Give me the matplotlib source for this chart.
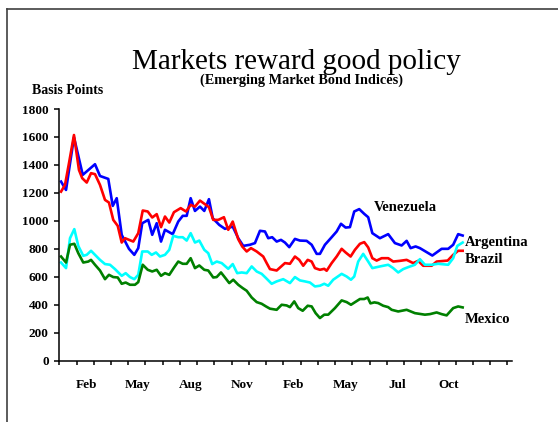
import matplotlib
matplotlib.use("Agg")
import matplotlib.pyplot as plt
from matplotlib.lines import Line2D

# time axis in months from the start of the first January
ven_t = [0.10, 0.39, 0.85, 1.36, 2.07, 2.36, 2.84, 3.10, 3.33, 3.62,
         4.04, 4.35, 4.58, 4.81, 5.16, 5.39, 5.65, 5.90, 6.13, 6.58,
         6.90, 7.16, 7.39, 7.62, 7.87, 8.16, 8.41, 8.68, 8.90, 9.28,
         9.61, 10.06, 10.38, 10.67, 11.06, 11.35, 11.64, 11.93, 12.12, 12.35,
         12.61, 12.86, 13.09, 13.34, 13.67, 13.96, 14.35, 14.64, 14.93, 15.12,
         15.41, 15.80, 16.09, 16.34, 16.61, 16.86, 17.11, 17.40, 17.69, 17.92,
         18.16, 18.60, 19.08, 19.47, 19.86, 20.15, 20.38, 20.67, 20.92, 21.64,
         22.18, 22.56, 22.85, 23.14, 23.40]
venezuela = [1281, 1221, 1598, 1329, 1405, 1321, 1300, 1107, 1162, 900,
             800, 757, 805, 983, 1007, 900, 983, 852, 936, 905,
             995, 1036, 1036, 1162, 1071, 1102, 1071, 1155, 1019, 971,
             943, 959, 876, 821, 829, 841, 929, 924, 876, 883,
             852, 864, 845, 812, 871, 859, 857, 829, 764, 764,
             829, 883, 924, 979, 952, 955, 1067, 1084, 1050, 1026,
             912, 876, 905, 841, 824, 857, 805, 817, 805, 752,
             800, 800, 829, 905, 895]

bra_t = [0.10, 0.33, 0.56, 0.85, 1.14, 1.33, 1.59, 1.84, 2.07, 2.36,
         2.65, 2.88, 3.13, 3.39, 3.62, 3.81, 4.29, 4.58, 4.84, 5.13,
         5.39, 5.65, 5.90, 6.13, 6.38, 6.65, 7.04, 7.35, 7.62, 7.87,
         8.16, 8.45, 8.68, 8.93, 9.22, 9.55, 9.80, 10.06, 10.38, 10.61,
         10.87, 11.12, 11.45, 11.83, 12.03, 12.22, 12.61, 13.09, 13.38, 13.67,
         13.92, 14.15, 14.41, 14.64, 14.83, 15.12, 15.37, 15.51, 15.80, 16.09,
         16.38, 16.61, 16.90, 17.15, 17.44, 17.69, 17.92, 18.16, 18.41, 18.70,
         19.08, 19.37, 19.76, 20.15, 20.53, 20.82, 21.11, 21.60, 21.89, 22.53,
         22.85, 23.14, 23.40]
brazil = [1209, 1257, 1412, 1614, 1364, 1305, 1274, 1341, 1334, 1257,
          1150, 1131, 1007, 964, 845, 876, 852, 912, 1074, 1067,
          1024, 1048, 955, 1031, 988, 1062, 1091, 1067, 1114, 1102,
          1145, 1119, 1098, 1007, 1007, 1026, 936, 995, 869, 817,
          781, 805, 781, 745, 698, 655, 645, 698, 693, 745,
          721, 679, 721, 709, 662, 650, 657, 643, 698, 745,
          800, 774, 745, 793, 836, 848, 810, 733, 716, 733,
          733, 709, 714, 721, 698, 714, 679, 679, 709, 716,
          757, 786, 786]

arg_t = [0.10, 0.39, 0.62, 0.87, 1.10, 1.39, 1.59, 1.84, 2.07, 2.36,
         2.65, 2.94, 3.23, 3.62, 3.85, 4.10, 4.35, 4.58, 4.81, 5.13,
         5.36, 5.61, 5.84, 6.13, 6.38, 6.61, 6.90, 7.16, 7.39, 7.62,
         7.87, 8.12, 8.41, 8.64, 8.87, 9.13, 9.42, 9.80, 10.06, 10.32,
         10.58, 10.87, 11.16, 11.45, 11.74, 11.99, 12.32, 12.61, 12.99, 13.38,
         13.67, 13.96, 14.25, 14.54, 14.83, 15.12, 15.37, 15.60, 15.89, 16.38,
         16.67, 16.92, 17.11, 17.34, 17.63, 17.92, 18.16, 18.60, 19.08, 19.37,
         19.66, 19.95, 20.24, 20.63, 20.92, 21.21, 21.60, 21.98, 22.56, 22.85,
         23.09, 23.40]
argentina = [702, 662, 876, 941, 821, 750, 757, 786, 757, 721,
             691, 686, 655, 607, 626, 598, 583, 614, 781, 781,
             757, 774, 745, 757, 793, 893, 883, 883, 859, 912,
             845, 859, 793, 769, 691, 709, 698, 657, 691, 626,
             631, 626, 674, 638, 621, 591, 550, 567, 583, 555,
             598, 574, 567, 559, 531, 536, 550, 536, 579, 621,
             602, 579, 602, 709, 764, 709, 662, 674, 686, 662,
             631, 655, 669, 686, 726, 686, 686, 693, 686, 733,
             821, 845]

mex_t = [0.10, 0.39, 0.62, 0.87, 1.10, 1.39, 1.68, 1.84, 2.07, 2.36,
         2.65, 2.88, 3.13, 3.39, 3.62, 3.85, 4.10, 4.39, 4.58, 4.84,
         5.13, 5.39, 5.65, 5.90, 6.13, 6.38, 6.65, 6.90, 7.16, 7.39,
         7.62, 7.87, 8.12, 8.41, 8.64, 8.93, 9.13, 9.38, 9.61, 9.86,
         10.09, 10.38, 10.64, 10.87, 11.16, 11.45, 11.74, 11.99, 12.22, 12.61,
         12.90, 13.19, 13.38, 13.63, 13.86, 14.12, 14.41, 14.64, 14.87, 15.12,
         15.37, 15.60, 15.99, 16.38, 16.67, 16.92, 17.44, 17.69, 17.89, 18.05,
         18.28, 18.50, 18.79, 19.08, 19.28, 19.66, 20.15, 20.63, 21.21, 21.50,
         21.89, 22.18, 22.47, 22.85, 23.14, 23.40]
mexico = [745, 702, 829, 836, 769, 702, 709, 721, 686, 645,
          583, 614, 598, 595, 550, 559, 543, 543, 562, 686,
          650, 638, 650, 607, 626, 614, 665, 709, 693, 693,
          733, 662, 681, 650, 645, 595, 598, 631, 595, 555,
          579, 543, 519, 500, 452, 419, 407, 388, 372, 364,
          400, 395, 383, 424, 376, 357, 393, 388, 340, 305,
          329, 329, 376, 431, 419, 400, 441, 441, 452, 410,
          417, 412, 393, 383, 364, 352, 364, 340, 329, 333,
          345, 333, 324, 376, 388, 381]

month_labels = ["Feb", "May", "Aug", "Nov", "Feb", "May", "Jul", "Oct"]
month_pos = [1.6, 4.57, 7.62, 10.58, 13.6, 16.6, 19.6, 22.6]
y_ticks = list(range(0, 1801, 200))

serif = "Liberation Serif"

fig = plt.figure(figsize=(5.58, 4.22), dpi=100)
ax = fig.add_axes([0.1063, 0.1453, 0.8118, 0.5964])

ax.plot(ven_t, venezuela, color="#0000ff", lw=1.9)
ax.plot(bra_t, brazil, color="#ff0000", lw=1.9)
ax.plot(arg_t, argentina, color="#00ffff", lw=1.9)
ax.plot(mex_t, mexico, color="#008000", lw=1.9)

ax.set_xlim(0, 26.28)
ax.set_ylim(0, 1800)
ax.set_yticks(y_ticks)
ax.set_xticks(month_pos)
ax.set_xticklabels(month_labels)
ax.set_xticks(range(0, 27), minor=True)

for s in ["top", "right"]:
    ax.spines[s].set_visible(False)
for s in ["left", "bottom"]:
    ax.spines[s].set_linewidth(1.1)

ax.tick_params(axis="y", length=3.6, width=1.1, pad=4)
ax.tick_params(axis="x", which="major", length=0, pad=13)
ax.tick_params(axis="x", which="minor", length=3, width=1.1)
for lab in ax.get_xticklabels() + ax.get_yticklabels():
    lab.set_fontfamily(serif)
    lab.set_fontweight("bold")
    lab.set_fontsize(9.5)

# series names at the right-hand ends of the lines
name_kw = dict(fontfamily=serif, fontweight="bold", fontsize=10.5, va="center")
ax.text(18.22, 1098, "Venezuela", **name_kw)
ax.text(23.53, 847, "Argentina", **name_kw)
ax.text(23.53, 721, "Brazil", **name_kw)
ax.text(23.53, 298, "Mexico", **name_kw)

fig.text(296 / 558, 1 - 68.7 / 422, "Markets reward good policy", ha="center",
         va="baseline", fontfamily=serif, fontsize=21)
fig.text(301.5 / 558, 1 - 84 / 422, "(Emerging Market Bond Indices)",
         ha="center", va="baseline", fontfamily=serif, fontweight="bold",
         fontsize=10.3)
fig.text(32 / 558, 1 - 93.5 / 422, "Basis Points", ha="left", va="baseline",
         fontfamily=serif, fontweight="bold", fontsize=10)

# page frame
fig.add_artist(Line2D([7 / 558, 1], [1 - 8.5 / 422] * 2,
                      transform=fig.transFigure, color="#404040", lw=1.2))
fig.add_artist(Line2D([7 / 558, 7 / 558], [1 - 8.5 / 422, 0],
                      transform=fig.transFigure, color="#404040", lw=1.2))

fig.savefig("out.png", dpi=100)
